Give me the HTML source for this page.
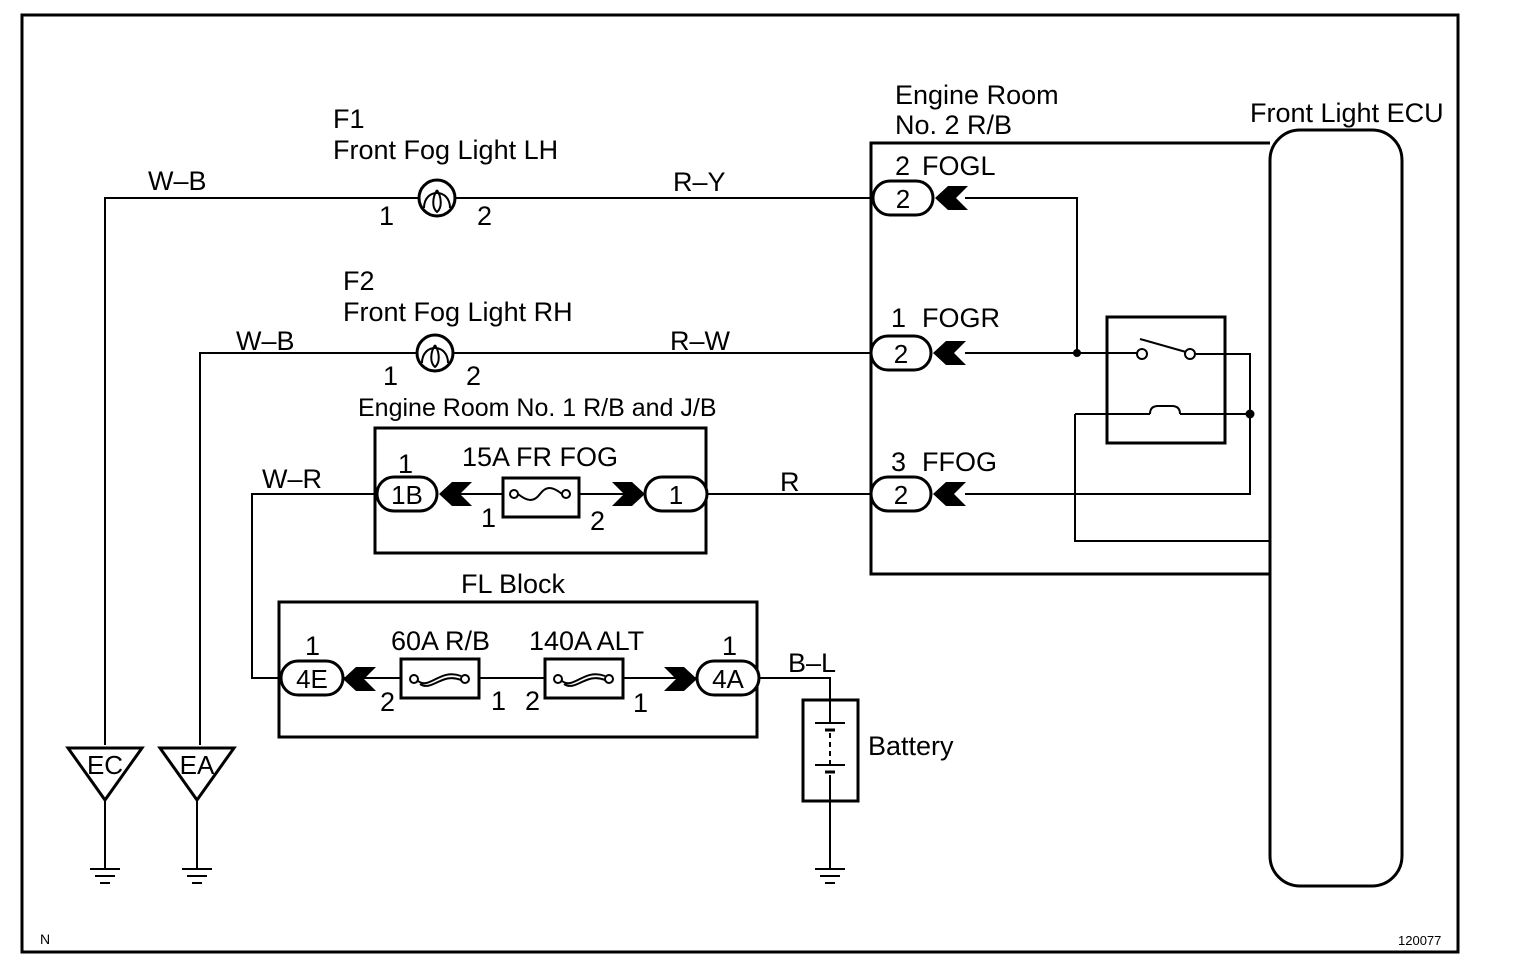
<!DOCTYPE html>
<html><head><meta charset="utf-8"><style>
html,body{margin:0;padding:0;background:#fff}
svg{display:block}
text{font-family:"Liberation Sans",Arial,sans-serif;fill:#000}
</style></head><body>
<svg width="1520" height="978" viewBox="0 0 1520 978" xmlns="http://www.w3.org/2000/svg">
<g fill="none" stroke="#000" stroke-width="2">
<rect x="22" y="15" width="1436" height="937" stroke-width="3"/>
<rect x="1270" y="130" width="132" height="756" rx="30" stroke-width="3"/>
<polyline points="1270,143 871,143 871,574 1270,574" stroke-width="3"/>
<rect x="1107" y="317" width="118" height="126" stroke-width="3"/>
<rect x="375" y="428" width="331" height="125" stroke-width="3"/>
<rect x="279" y="602" width="478" height="135" stroke-width="3"/>
<polyline points="105,745 105,198 419,198"/>
<line x1="455" y1="198" x2="872" y2="198"/>
<polyline points="200,745 200,353 417,353"/>
<line x1="453" y1="353" x2="872" y2="353"/>
<circle cx="437" cy="198" r="18" stroke-width="3"/>
<path d="M424,208 C424,188 450,188 450,208 M437,190 C432,198 432,208 437,212 C442,208 442,198 437,190" stroke-width="2"/>
<circle cx="435" cy="353" r="18" stroke-width="3"/>
<path d="M422,363 C422,343 448,343 448,363 M435,345 C430,353 430,363 435,367 C440,363 440,353 435,345" stroke-width="2"/>
<polyline points="965,198 1077,198 1077,353"/>
<line x1="965" y1="353" x2="1137" y2="353"/>
<polyline points="1196,354 1250,354 1250,494 965,494"/>
<polyline points="1075,414 1150,414"/>
<path d="M1150,414 q0,-8 8,-8 l14,0 q8,0 8,8"/>
<line x1="1180" y1="414" x2="1250" y2="414"/>
<polyline points="1075,414 1075,541 1270,541"/>
<circle cx="1142" cy="354" r="5" fill="#fff"/>
<circle cx="1190" cy="354" r="5" fill="#fff"/>
<line x1="1140" y1="339" x2="1186" y2="352"/>
<rect x="873" y="181" width="60" height="34" rx="17" stroke-width="3" fill="#fff"/>
<rect x="871" y="336" width="60" height="34" rx="17" stroke-width="3" fill="#fff"/>
<rect x="871" y="477" width="60" height="34" rx="17" stroke-width="3" fill="#fff"/>
<line x1="707" y1="494" x2="872" y2="494"/>
<polyline points="377,494 252,494 252,678 281,678"/>
<line x1="440" y1="494" x2="645" y2="494"/>
<rect x="377" y="477" width="60" height="34" rx="17" stroke-width="3" fill="#fff"/>
<rect x="645" y="477" width="62" height="34" rx="17" stroke-width="3" fill="#fff"/>
<rect x="503" y="478" width="76" height="39" stroke-width="3" fill="#fff"/>
<circle cx="514" cy="494" r="4"/><circle cx="566" cy="494" r="4"/>
<path d="M518,494 C528,502 534,502 540,494 C546,486 552,486 562,494"/>
<line x1="342" y1="678" x2="697" y2="678"/>
<rect x="281" y="661" width="62" height="34" rx="17" stroke-width="3" fill="#fff"/>
<rect x="697" y="661" width="62" height="34" rx="17" stroke-width="3" fill="#fff"/>
<rect x="401" y="659" width="78" height="39" stroke-width="3" fill="#fff"/>
<rect x="545" y="659" width="78" height="39" stroke-width="3" fill="#fff"/>
<circle cx="414" cy="679" r="4"/><circle cx="465" cy="679" r="4"/>
<path d="M418,681 C430,690 440,668 461,676 M420,684 C432,692 442,672 461,680"/>
<circle cx="558" cy="679" r="4"/><circle cx="609" cy="679" r="4"/>
<path d="M562,681 C574,690 584,668 605,676 M564,684 C576,692 586,672 605,680"/>
<polyline points="759,678 830,678 830,700"/>
<rect x="803" y="700" width="55" height="101" stroke-width="3"/>
<line x1="830" y1="700" x2="830" y2="722"/>
<line x1="815" y1="723" x2="845" y2="723" stroke-width="2"/>
<line x1="825" y1="730" x2="835" y2="730" stroke-width="3"/>
<line x1="830" y1="733" x2="830" y2="764" stroke-dasharray="5,4"/>
<line x1="815" y1="765" x2="845" y2="765"/>
<line x1="825" y1="772" x2="835" y2="772" stroke-width="3"/>
<line x1="830" y1="775" x2="830" y2="868"/>
<polygon points="68,748 142,748 105,800" stroke-width="3"/>
<polygon points="160,748 234,748 197,800" stroke-width="3"/>
<line x1="105" y1="800" x2="105" y2="868"/>
<line x1="197" y1="800" x2="197" y2="868"/>
<g stroke-width="2">
<line x1="90" y1="869" x2="120" y2="869"/><line x1="95" y1="876" x2="115" y2="876"/><line x1="100" y1="883" x2="110" y2="883"/>
<line x1="182" y1="869" x2="212" y2="869"/><line x1="187" y1="876" x2="207" y2="876"/><line x1="192" y1="883" x2="202" y2="883"/>
<line x1="815" y1="869" x2="845" y2="869"/><line x1="820" y1="876" x2="840" y2="876"/><line x1="825" y1="883" x2="835" y2="883"/>
</g>
</g>
<circle cx="1077" cy="353" r="4"/>
<circle cx="1250" cy="414" r="4.5"/>
<g fill="#000">
<path d="M935,198 l13,-12 h20 l-12,12 l12,12 h-20z"/>
<path d="M933,353 l13,-12 h20 l-12,12 l12,12 h-20z"/>
<path d="M933,494 l13,-12 h20 l-12,12 l12,12 h-20z"/>
<path d="M439,494 l13,-12 h20 l-12,12 l12,12 h-20z"/>
<path d="M343,679 l13,-12 h20 l-12,12 l12,12 h-20z"/>
<path d="M645,494 l-13,-12 h-20 l12,12 l-12,12 h20z"/>
<path d="M697,679 l-13,-12 h-20 l12,12 l-12,12 h20z"/>
</g>
<g font-size="27">
<text x="333" y="128">F1</text>
<text x="333" y="159">Front Fog Light LH</text>
<text x="148" y="190">W–B</text>
<text x="379" y="225">1</text>
<text x="477" y="225">2</text>
<text x="673" y="191">R–Y</text>
<text x="343" y="290">F2</text>
<text x="343" y="321">Front Fog Light RH</text>
<text x="236" y="350">W–B</text>
<text x="383" y="385">1</text>
<text x="466" y="385">2</text>
<text x="670" y="350">R–W</text>
<text x="358" y="416" font-size="25">Engine Room No. 1 R/B and J/B</text>
<text x="398" y="473">1</text>
<text x="462" y="466">15A FR FOG</text>
<text x="262" y="488">W–R</text>
<text x="481" y="527">1</text>
<text x="590" y="530">2</text>
<text x="780" y="491">R</text>
<text x="461" y="593">FL Block</text>
<text x="305" y="655">1</text>
<text x="391" y="650">60A R/B</text>
<text x="529" y="650">140A ALT</text>
<text x="722" y="655">1</text>
<text x="380" y="711">2</text>
<text x="491" y="710">1</text>
<text x="525" y="710">2</text>
<text x="633" y="712">1</text>
<text x="788" y="672">B–L</text>
<text x="868" y="755">Battery</text>
<text x="895" y="104">Engine Room</text>
<text x="895" y="134">No. 2 R/B</text>
<text x="1250" y="122">Front Light ECU</text>
<text x="895" y="175">2</text><text x="922" y="175">FOGL</text>
<text x="891" y="327">1</text><text x="922" y="327">FOGR</text>
<text x="891" y="471">3</text><text x="922" y="471">FFOG</text>
</g>
<g font-size="26" text-anchor="middle">
<text x="903" y="208">2</text>
<text x="901" y="363">2</text>
<text x="901" y="504">2</text>
<text x="407" y="504">1B</text>
<text x="676" y="504">1</text>
<text x="312" y="688">4E</text>
<text x="728" y="688">4A</text>
<text x="105" y="774">EC</text>
<text x="197" y="774">EA</text>
</g>
<text x="40" y="944" font-size="14">N</text>
<text x="1398" y="945" font-size="13">120077</text>
</svg>
</body></html>
